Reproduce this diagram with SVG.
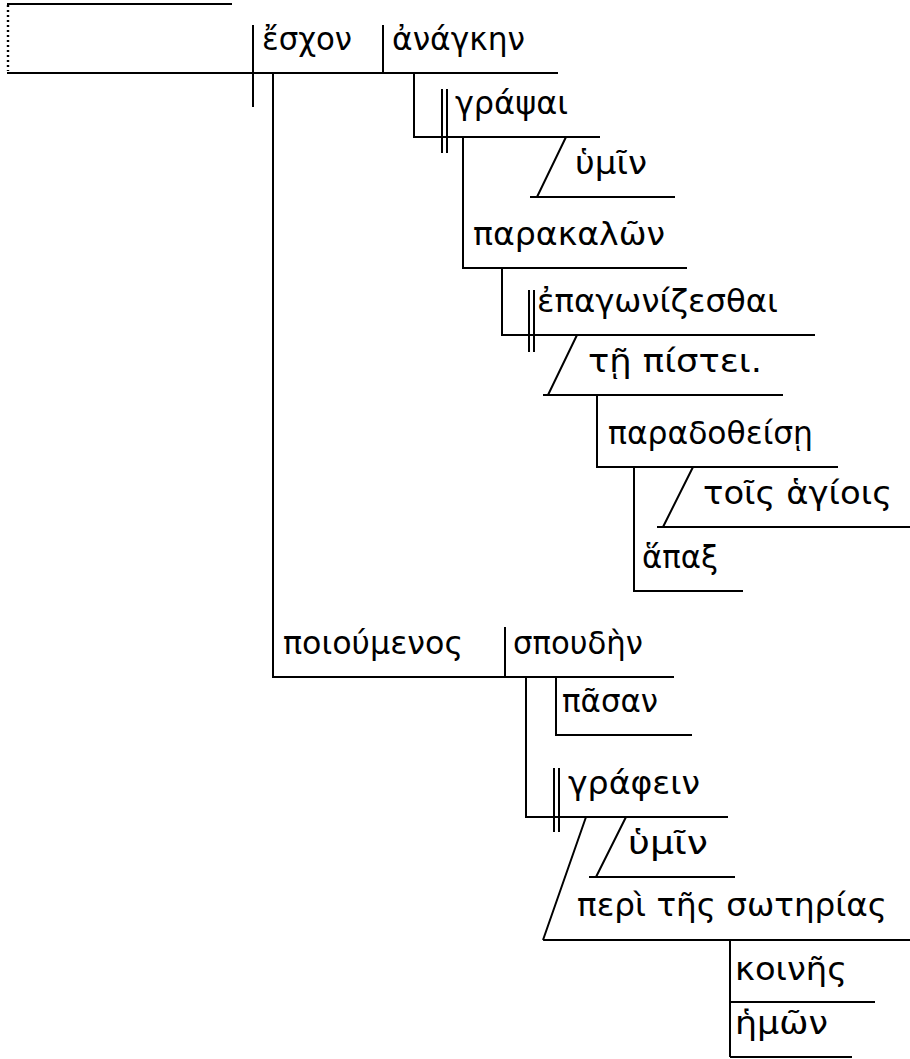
<svg xmlns="http://www.w3.org/2000/svg" width="910" height="1059" viewBox="0 0 910 1059">
<style>
.ln{stroke:#000;stroke-width:2;fill:none;stroke-linecap:butt}
.dot{stroke:#000;stroke-width:2.4;fill:none;stroke-dasharray:2 3}
text{font-family:"DejaVu Sans","Noto Sans",sans-serif;font-size:32px;fill:#000}
</style>
<rect width="910" height="1059" fill="#fff"/>
<g id="connectors">
<path class="ln" d="M7,4 H232"/>
<path class="dot" d="M8,5 V71"/>
<path class="ln" d="M7,73 H558"/>
<path class="ln" d="M253,25 V107"/>
<path class="ln" d="M383,25 V73"/>
<path class="ln" d="M273,73 V677 H674"/>
<path class="ln" d="M414,73 V137 H600"/>
<path class="ln" d="M442,89 V153 M447,89 V153"/>
<path class="ln" d="M463,137 V268 H687"/>
<path class="ln" d="M566,137 L537,197 M530,197 H675"/>
<path class="ln" d="M502,268 V335 H815"/>
<path class="ln" d="M529,290 V352 M534,290 V352"/>
<path class="ln" d="M577,335 L548,395 M543,395 H783"/>
<path class="ln" d="M597,395 V467 H838"/>
<path class="ln" d="M634,467 V591 H743"/>
<path class="ln" d="M693,467 L663,527 M657,527 H910"/>
<path class="ln" d="M505,627 V677"/>
<path class="ln" d="M526,677 V817 H728"/>
<path class="ln" d="M556,677 V735 H692"/>
<path class="ln" d="M554,768 V832 M559,768 V832"/>
<path class="ln" d="M626,817 L596,877 M589,877 H735"/>
<path class="ln" d="M586,817 L543,940 M543,940 H910"/>
<path class="ln" d="M730,940 V1057"/>
<path class="ln" d="M730,1002 H875"/>
<path class="ln" d="M730,1057 H852"/>
</g>
<g id="n-eschon"><text x="262" y="50" textLength="90" lengthAdjust="spacingAndGlyphs">ἔσχον</text></g>
<g id="n-anagkin"><text x="392" y="50" textLength="133" lengthAdjust="spacingAndGlyphs">ἀνάγκην</text></g>
<g id="n-grapsai"><text x="455" y="114" textLength="113" lengthAdjust="spacingAndGlyphs">γράψαι</text></g>
<g id="n-hymin1"><text x="575" y="174" textLength="72" lengthAdjust="spacingAndGlyphs">ὑμῖν</text></g>
<g id="n-parakalon"><text x="473" y="245" textLength="192" lengthAdjust="spacingAndGlyphs">παρακαλῶν</text></g>
<g id="n-epagonizesthai"><text x="537" y="312" textLength="241" lengthAdjust="spacingAndGlyphs">ἐπαγωνίζεσθαι</text></g>
<g id="n-tei-pistei"><text x="588" y="372" textLength="174" lengthAdjust="spacingAndGlyphs">τῇ πίστει.</text></g>
<g id="n-paradotheisei"><text x="608" y="444" textLength="205" lengthAdjust="spacingAndGlyphs">παραδοθείσῃ</text></g>
<g id="n-tois-hagiois"><text x="703" y="504" textLength="189" lengthAdjust="spacingAndGlyphs">τοῖς ἁγίοις</text></g>
<g id="n-hapax"><text x="642" y="568" textLength="76" lengthAdjust="spacingAndGlyphs">ἅπαξ</text></g>
<g id="n-poioumenos"><text x="283" y="654" textLength="180" lengthAdjust="spacingAndGlyphs">ποιούμενος</text></g>
<g id="n-spouden"><text x="513" y="654" textLength="130" lengthAdjust="spacingAndGlyphs">σπουδὴν</text></g>
<g id="n-pasan"><text x="562" y="712" textLength="96" lengthAdjust="spacingAndGlyphs">πᾶσαν</text></g>
<g id="n-graphein"><text x="568" y="794" textLength="132" lengthAdjust="spacingAndGlyphs">γράφειν</text></g>
<g id="n-hymin2"><text x="628" y="854" textLength="80" lengthAdjust="spacingAndGlyphs">ὑμῖν</text></g>
<g id="n-peri-soterias"><text x="577" y="916" textLength="310" lengthAdjust="spacingAndGlyphs">περὶ τῆς σωτηρίας</text></g>
<g id="n-koines"><text x="735" y="980" textLength="112" lengthAdjust="spacingAndGlyphs">κοινῆς</text></g>
<g id="n-hemon"><text x="735" y="1034" textLength="93" lengthAdjust="spacingAndGlyphs">ἡμῶν</text></g>
</svg>
